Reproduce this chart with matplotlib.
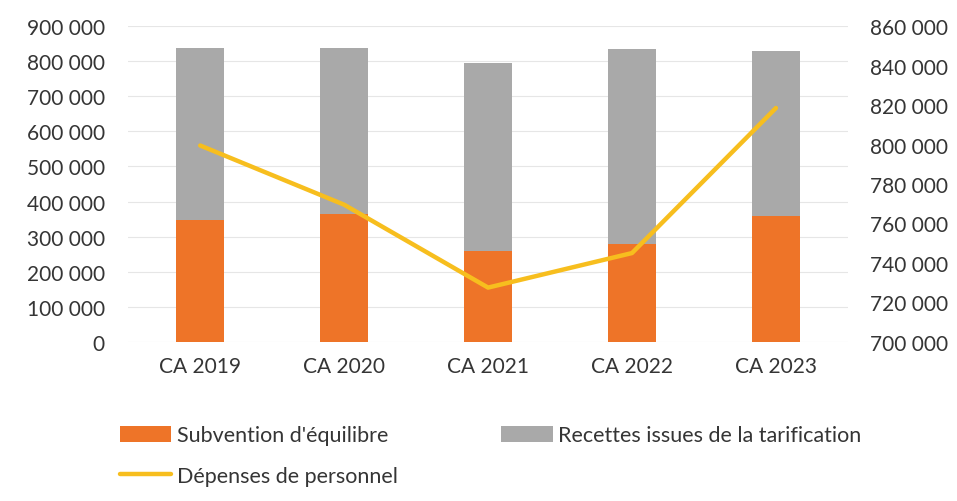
import matplotlib
matplotlib.use("Agg")
import matplotlib.pyplot as plt
from matplotlib.ticker import FuncFormatter, MultipleLocator

plt.rcParams['font.family'] = ['Lato', 'DejaVu Sans']

categories = ["CA 2019", "CA 2020", "CA 2021", "CA 2022", "CA 2023"]
subvention = [346000, 365000, 260000, 279000, 358000]
recettes = [493000, 474000, 535000, 556000, 472000]
depenses = [799500, 769500, 727500, 745000, 818500]

c_orange = "#EE7428"
c_gray = "#A9A9A9"
c_yellow = "#F7BE1E"
c_text = "#353535"


def fmt_thousands(v, _pos):
    return f"{int(round(v)):,}".replace(",", " ")


fig = plt.figure(figsize=(9.57, 5.02), dpi=100)
ax = fig.add_axes([0.134, 0.317, 0.752, 0.629])
ax2 = ax.twinx()

x = list(range(len(categories)))
b1 = ax.bar(x, subvention, width=0.33, color=c_orange, zorder=2,
            label="Subvention d'équilibre")
b2 = ax.bar(x, recettes, width=0.33, bottom=subvention, color=c_gray, zorder=2,
            label="Recettes issues de la tarification")
ln, = ax2.plot(x, depenses, color=c_yellow, lw=3.2, solid_capstyle='round',
               label="Dépenses de personnel", zorder=3)

ax.set_xlim(-0.5, 4.5)
ax.set_ylim(0, 900000)
ax.yaxis.set_major_locator(MultipleLocator(100000))
ax.yaxis.set_major_formatter(FuncFormatter(fmt_thousands))
ax2.set_ylim(700000, 860000)
ax2.yaxis.set_major_locator(MultipleLocator(20000))
ax2.yaxis.set_major_formatter(FuncFormatter(fmt_thousands))

ax.set_xticks(x)
ax.set_xticklabels(categories)
ax.grid(axis='y', color="#E6E6E6", lw=0.8, zorder=0)
ax.set_axisbelow(True)

for a in (ax, ax2):
    for s in a.spines.values():
        s.set_visible(False)
ax.tick_params(axis='y', length=0, pad=17, labelsize=15, labelcolor=c_text)
ax.tick_params(axis='x', length=0, pad=10, labelsize=15, labelcolor=c_text)
ax2.tick_params(axis='y', length=0, pad=16, labelsize=15, labelcolor=c_text)

# column-wise fill: first column holds the two first entries listed
fig.legend(handles=[b1, ln, b2], loc='upper left', bbox_to_anchor=(0.116, 0.168),
           ncol=2, frameon=False, fontsize=15.5, labelcolor=c_text,
           handlelength=2.4, handleheight=0.75, handletextpad=0.25,
           columnspacing=4.8, labelspacing=0.95, borderaxespad=0)

fig.savefig("out.png", dpi=100)
